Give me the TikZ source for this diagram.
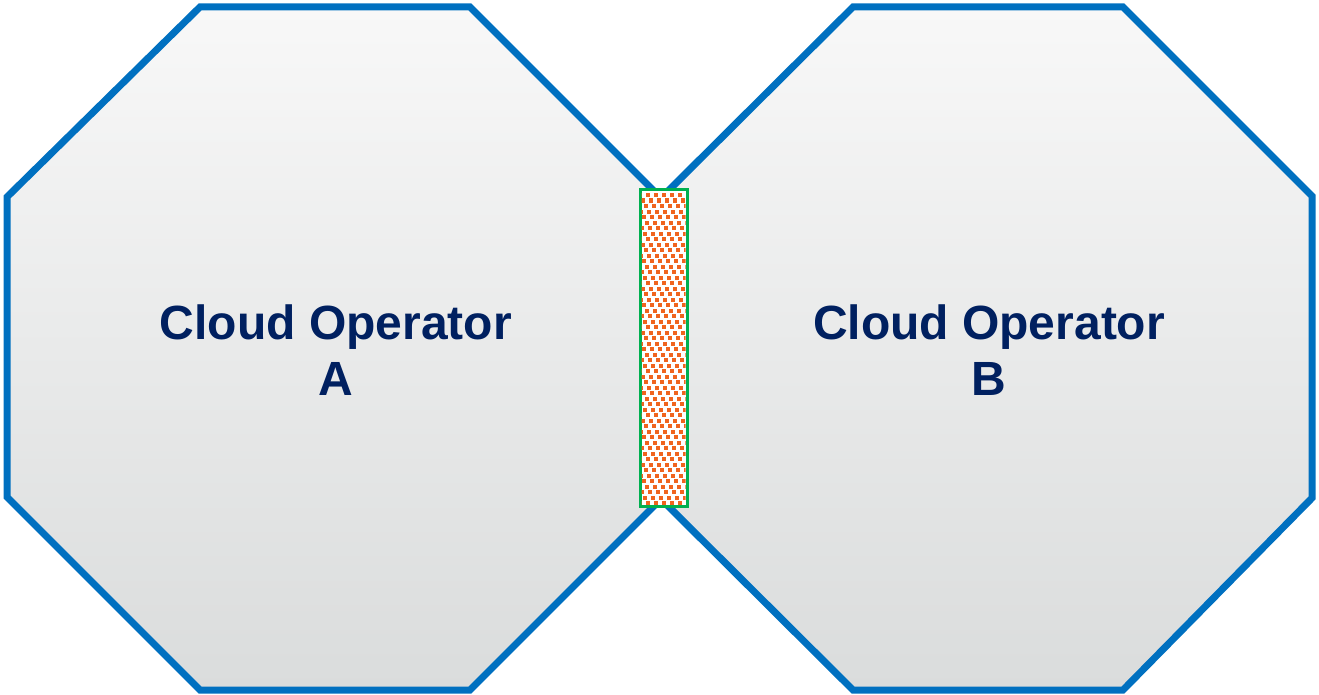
\documentclass[tikz,border=0pt]{standalone}
\usepackage{fontspec}
\setmainfont{Liberation Sans}
\definecolor{octblue}{HTML}{0070C0}
\definecolor{navy}{HTML}{002060}
\definecolor{bargreen}{HTML}{00B050}
\definecolor{confetti}{HTML}{F0641E}
\definecolor{topgray}{HTML}{F8F8F8}
\definecolor{botgray}{HTML}{DADCDC}
\tikzset{
  octo/.style={draw=octblue, line width=7pt, line join=miter, top color=topgray, bottom color=botgray},
  label/.style={font=\bfseries\fontsize{48}{56}\selectfont, text=navy, align=center},
  barbox/.style={draw=bargreen, line width=2pt, fill=white},
  dot/.style={fill=confetti}
}
\begin{document}
\begin{tikzpicture}[x=1pt,y=-1pt]
\useasboundingbox (0,0) rectangle (1319,695);
% left octagon
\draw[octo] (200,7) -- (470,7) -- (658,195) -- (658,502) -- (470,690) -- (200,690) -- (7,497) -- (7,197) -- cycle;
% right octagon
\draw[octo] (853,7) -- (1123,7) -- (1312,196) -- (1312,498) -- (1123,690) -- (853,690) -- (664,502) -- (664,195) -- cycle;
\node[label] (a) at (336,350) {Cloud Operator\\A};
\node[label] (b) at (989,350) {Cloud Operator\\B};
% bar
\node[barbox, minimum width=46pt, minimum height=315pt, inner sep=0pt] (bar) at (663.5,348) {};
\begin{scope}
\clip (641.5,191.5) rectangle (685.5,504.5);
\foreach \r in {0,...,56}{
  \pgfmathsetmacro{\yy}{193+\r*5.5}
  \pgfmathsetmacro{\off}{mod(\r*3,8)}
  \foreach \c in {0,...,6}{
    \pgfmathsetmacro{\xx}{638+\off+\c*8}
    \fill[dot] (\xx,\yy) rectangle ++(4.3,4.3);
  }
}
\end{scope}
\draw[draw=bargreen, line width=2pt] (bar.north west) rectangle (bar.south east);
\end{tikzpicture}
\end{document}
